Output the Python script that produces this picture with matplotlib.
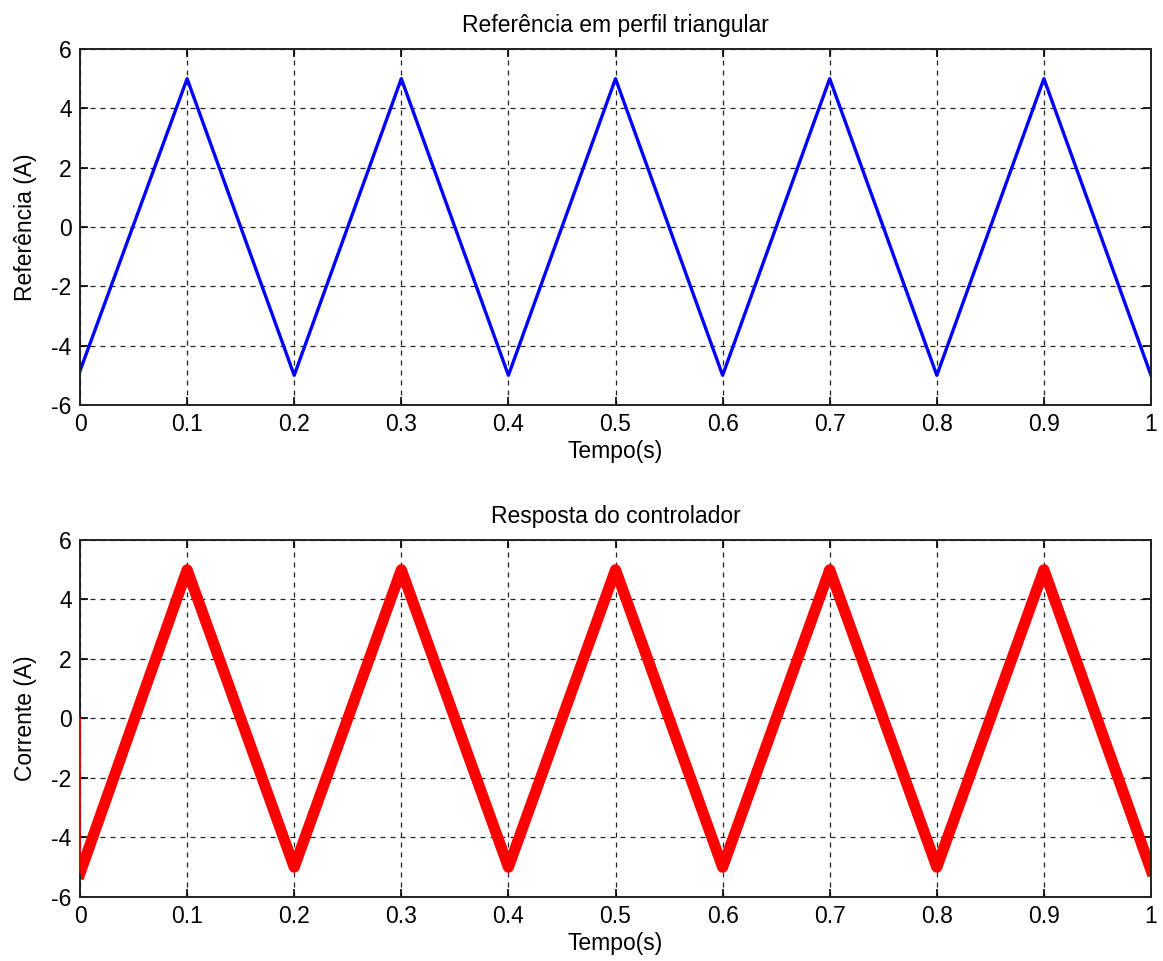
import matplotlib
matplotlib.use("Agg")
import matplotlib.pyplot as plt

# Reference triangle (vertices)
ref_t = [0.0, 0.1, 0.2, 0.3, 0.4, 0.5, 0.6, 0.7, 0.8, 0.9, 1.0]
ref_v = [-4.85, 5.0, -5.0, 5.0, -5.0, 5.0, -5.0, 5.0, -5.0, 5.0, -5.0]

# Controller response: initial jump from 0, then follows the triangle
start_t = [0.0, 0.0]
start_v = [0.0, -5.2]
resp_t = [0.0, 0.1, 0.2, 0.3, 0.4, 0.5, 0.6, 0.7, 0.8, 0.9, 1.0]
resp_v = [-5.2, 5.0, -5.0, 5.0, -5.0, 5.0, -5.0, 5.0, -5.0, 5.0, -5.1]

xticks = [0, 0.1, 0.2, 0.3, 0.4, 0.5, 0.6, 0.7, 0.8, 0.9, 1]
xtick_labels = ["0", "0.1", "0.2", "0.3", "0.4", "0.5", "0.6", "0.7", "0.8", "0.9", "1"]
yticks = [-6, -4, -2, 0, 2, 4, 6]

plt.rcParams["font.family"] = ["Liberation Sans", "DejaVu Sans"]
plt.rcParams["axes.unicode_minus"] = False
FS = 16.5

fig = plt.figure(figsize=(11.63, 9.61), dpi=100)
ax1 = fig.add_axes([0.0688, 0.5786, 0.9209, 0.3704])
ax2 = fig.add_axes([0.0688, 0.0666, 0.9209, 0.3715])


def style(ax):
    ax.set_xlim(0, 1)
    ax.set_ylim(-6, 6)
    ax.set_xticks(xticks)
    ax.set_xticklabels(xtick_labels)
    ax.set_yticks(yticks)
    ax.grid(True, color="#222222", linestyle=(0, (4, 4)), linewidth=0.9)
    ax.tick_params(direction="in", top=True, right=True, length=6,
                   width=1.2, labelsize=FS, pad=6)
    for s in ax.spines.values():
        s.set_linewidth(1.4)
        s.set_color("#222222")
    ax.set_xlabel("Tempo(s)", fontsize=FS, labelpad=3)


ax1.plot(ref_t, ref_v, color="#0000FF", linewidth=2.4)
style(ax1)
ax1.set_ylabel("Referência (A)", fontsize=FS, labelpad=10)
ax1.set_title("Referência em perfil triangular", fontsize=FS, pad=12)

ax2.plot(start_t, start_v, color="#FF0000", linewidth=1.2,
         clip_on=False, zorder=3)
ax2.plot(resp_t, resp_v, color="#FF0000", linewidth=8)
style(ax2)
ax2.set_ylabel("Corrente (A)", fontsize=FS, labelpad=10)
ax2.set_title("Resposta do controlador", fontsize=FS, pad=12)

fig.savefig("out.png", dpi=100)
